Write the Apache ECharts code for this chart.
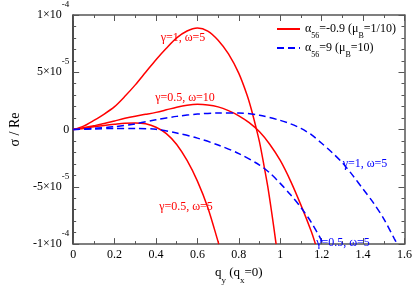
<!DOCTYPE html>
<html><head><meta charset="utf-8">
<script src="https://cdn.jsdelivr.net/npm/echarts@6/dist/echarts.min.js"></script>
<style>html,body{margin:0;padding:0;background:#fff}#c{width:415px;height:290px}</style>
</head><body><div id="c"></div>
<script>
// values of sigma/Re in units of 1e-5
const redG1W5_x = [0, 0.05, 0.1, 0.15, 0.2, 0.25, 0.3, 0.35, 0.4, 0.45, 0.5, 0.55, 0.6, 0.65, 0.7, 0.75, 0.8, 0.84, 0.86, 0.88, 0.9, 0.92, 0.94, 0.96, 0.98];
const redG1W5_y = [0, 0.3, 0.8, 1.35, 2.0, 2.9, 3.9, 5.0, 6.1, 7.1, 8.0, 8.6, 8.86, 8.6, 7.8, 6.6, 4.9, 3.0, 1.8, 0.4, -1.1, -3.0, -5.0, -7.4, -10];
const redG05W10_x = [0, 0.05, 0.1, 0.15, 0.2, 0.25, 0.3, 0.35, 0.4, 0.45, 0.5, 0.55, 0.6, 0.65, 0.7, 0.75, 0.8, 0.85, 0.9, 0.95, 1.0, 1.05, 1.1, 1.15, 1.17];
const redG05W10_y = [0, 0.15, 0.33, 0.52, 0.75, 0.98, 1.17, 1.33, 1.5, 1.72, 1.95, 2.12, 2.2, 2.15, 1.98, 1.65, 1.2, 0.6, -0.2, -1.3, -2.7, -4.5, -6.6, -8.9, -10];
const redG05W5_x = [0, 0.05, 0.1, 0.15, 0.2, 0.25, 0.3, 0.35, 0.4, 0.45, 0.5, 0.55, 0.6, 0.65, 0.7, 0.703];
const redG05W5_y = [0, 0.1, 0.25, 0.36, 0.46, 0.55, 0.58, 0.5, 0.2, -0.35, -1.3, -2.7, -4.5, -6.8, -9.8, -10];
const blueG1W5_x = [0, 0.1, 0.2, 0.3, 0.4, 0.5, 0.6, 0.7, 0.8, 0.9, 1.0, 1.05, 1.1, 1.15, 1.2, 1.25, 1.3, 1.35, 1.4, 1.45, 1.5, 1.55, 1.565];
const blueG1W5_y = [0, 0.1, 0.25, 0.5, 0.85, 1.15, 1.35, 1.45, 1.45, 1.25, 0.8, 0.5, 0.1, -0.45, -1.2, -2.0, -2.9, -4.0, -5.2, -6.4, -7.8, -9.5, -10];
const blueG05W5_x = [0, 0.1, 0.2, 0.3, 0.4, 0.5, 0.6, 0.7, 0.8, 0.9, 0.95, 1.0, 1.05, 1.1, 1.15, 1.2, 1.205];
const blueG05W5_y = [0, 0.05, 0.1, 0.1, 0.02, -0.3, -0.75, -1.35, -2.1, -3.1, -3.8, -4.7, -5.7, -6.8, -8.1, -9.7, -10];

const yTickLabels = {'10': '1×10{sup|-4}', '5': '5×10{sup|-5}', '0': '0', '-5': '-5×10{sup|-5}', '-10': '-1×10{sup|-4}'};
const legendRed = 'α56=-0.9 (μB=1/10)';
const legendBlue = 'α56=9 (μB=10)';
const legendRich = {
  [legendRed]: '{t|α}{sub|56}{t|=-0.9 (μ}{sub|B}{t|=1/10)}',
  [legendBlue]: '{t|α}{sub|56}{t|=9 (μ}{sub|B}{t|=10)}'
};
const annotations = [
  {text: 'γ=1, ω=5', color: '#ff0000', x: 183, y: 38},
  {text: 'γ=0.5, ω=10', color: '#ff0000', x: 185, y: 98},
  {text: 'γ=0.5, ω=5', color: '#ff0000', x: 186, y: 207},
  {text: 'γ=1, ω=5', color: '#0000ff', x: 365, y: 164},
  {text: 'γ=0.5, ω=5', color: '#0000ff', x: 343, y: 243}
];

const zip = (xs, ys) => xs.map((x, i) => [x, ys[i]]);
const font = "'Liberation Serif', 'DejaVu Serif', serif";
const axisCol = '#555';

function mkSeries(name, xs, ys, color, dashed) {
  return {
    name, type: 'line', data: zip(xs, ys), symbol: 'none', smooth: 0.3,
    lineStyle: {color, width: 1.5, type: dashed ? [7, 4] : 'solid'},
    itemStyle: {color}, silent: true, animation: false, z: 3
  };
}

const chart = echarts.init(document.getElementById('c'), null, {renderer: 'canvas'});
const baseX = {
  type: 'value', min: 0, max: 1.6, interval: 0.2,
  axisLine: {show: true, onZero: false, lineStyle: {color: axisCol, width: 1.5}},
  axisTick: {show: true, inside: true, length: 6, lineStyle: {color: axisCol, width: 1}},
  minorTick: {show: true, splitNumber: 2, length: 3, lineStyle: {color: axisCol, width: 1}},
  splitLine: {show: false}
};
const baseY = {
  type: 'value', min: -10, max: 10, interval: 5,
  axisLine: {show: true, onZero: false, lineStyle: {color: axisCol, width: 1.5}},
  axisTick: {show: true, inside: true, length: 6, lineStyle: {color: axisCol, width: 1}},
  minorTick: {show: true, splitNumber: 5, length: 3, lineStyle: {color: axisCol, width: 1}},
  splitLine: {show: false}
};
chart.setOption({
  animation: false,
  grid: {left: 49, right: 8, top: 6, bottom: 33, containLabel: false},
  xAxis: [
    Object.assign({}, baseX, {
      position: 'bottom',
      axisLabel: {fontFamily: font, fontSize: 12, color: '#000', margin: 5,
        formatter: v => String(+v.toFixed(1))},
      name: '{t|q}{sub|y}{t| (q}{sub|x}{t|=0)}', nameLocation: 'middle', nameGap: 21,
      nameTextStyle: {rich: {t: {fontFamily: font, fontSize: 13, color: '#000'},
        sub: {fontFamily: font, fontSize: 9, color: '#000', verticalAlign: 'bottom', padding: [0,0,-6,0]}}}
    }),
    Object.assign({}, baseX, {position: 'top', axisLabel: {show: false}})
  ],
  yAxis: [
    Object.assign({}, baseY, {
      position: 'left',
      axisLine: {show: true, onZero: false, lineStyle: {color: '#111', width: 1.5}},
      axisLabel: {fontFamily: font, fontSize: 12, color: '#000', margin: 4,
        formatter: v => yTickLabels[String(v)] || '',
        rich: {sup: {fontFamily: font, fontSize: 9, color: '#000', verticalAlign: 'top', padding: [-9,0,0,0]}}},
      name: 'σ / Re', nameLocation: 'middle', nameGap: 36, nameRotate: 90,
      nameTextStyle: {fontFamily: font, fontSize: 14, color: '#000'}
    }),
    Object.assign({}, baseY, {position: 'right', axisLabel: {show: false}})
  ],
  legend: {
    orient: 'vertical', left: 276, top: 23, itemWidth: 23, itemHeight: 10, itemGap: 2,
    padding: 0,
    data: [legendRed, legendBlue],
    itemStyle: {opacity: 0},
    formatter: n => legendRich[n],
    textStyle: {fontFamily: font, fontSize: 12, color: '#000', padding: 0,
      rich: {t: {fontFamily: font, fontSize: 12, color: '#000', lineHeight: 14},
        sub: {fontFamily: font, fontSize: 8, color: '#000', lineHeight: 14, verticalAlign: 'bottom', padding: [0,0,-4,0]}}}
  },
  graphic: annotations.map(a => ({
    type: 'text', x: a.x, y: a.y, z: 10,
    style: {text: a.text, fill: a.color, fontSize: 12, fontFamily: font, textAlign: 'center', textVerticalAlign: 'middle'}
  })),
  series: [
    mkSeries(legendRed, redG1W5_x, redG1W5_y, '#ff0000', false),
    mkSeries(legendRed, redG05W10_x, redG05W10_y, '#ff0000', false),
    mkSeries(legendRed, redG05W5_x, redG05W5_y, '#ff0000', false),
    mkSeries(legendBlue, blueG1W5_x, blueG1W5_y, '#0000ff', true),
    mkSeries(legendBlue, blueG05W5_x, blueG05W5_y, '#0000ff', true)
  ]
});
</script></body></html>
